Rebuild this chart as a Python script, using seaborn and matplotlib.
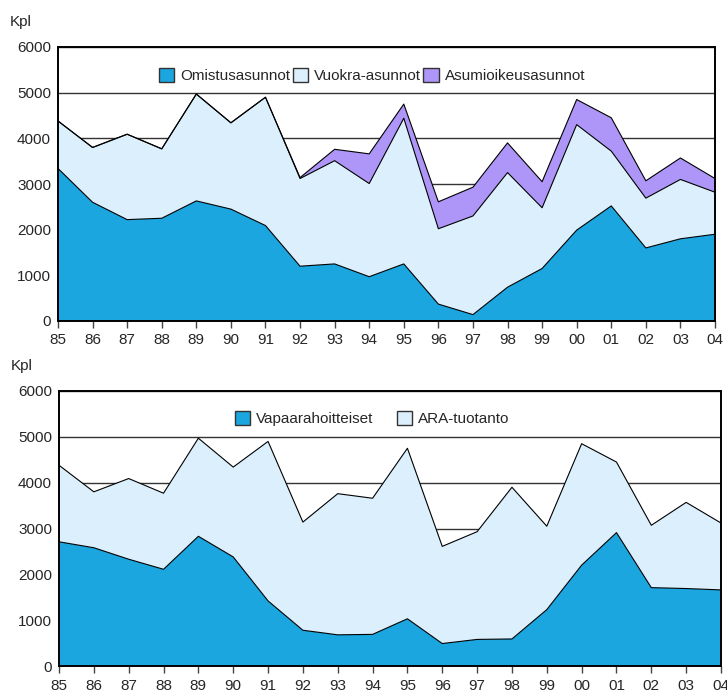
import matplotlib
matplotlib.use("Agg")
import matplotlib.pyplot as plt
from matplotlib.patches import Patch
import seaborn as sns
import pandas as pd

years = ["85", "86", "87", "88", "89", "90", "91", "92", "93", "94",
         "95", "96", "97", "98", "99", "00", "01", "02", "03", "04"]

# Top chart
omistus = [3340, 2600, 2220, 2250, 2630, 2450, 2090, 1200, 1250, 970,
           1250, 370, 140, 740, 1150, 1990, 2520, 1600, 1800, 1900]
vuokra = [1040, 1200, 1870, 1520, 2340, 1890, 2810, 1920, 2260, 2040,
          3190, 1650, 2160, 2510, 1330, 2310, 1200, 1090, 1300, 920]
asumio = [0, 0, 0, 0, 0, 0, 0, 20, 250, 650,
          310, 590, 630, 650, 570, 550, 730, 380, 470, 300]

# Bottom chart
vapaa = [2710, 2580, 2330, 2110, 2830, 2380, 1420, 780, 680, 690,
         1030, 490, 580, 590, 1230, 2200, 2910, 1710, 1690, 1660]
ara = [1670, 1220, 1760, 1660, 2140, 1960, 3480, 2360, 3080, 2970,
       3720, 2120, 2350, 3310, 1820, 2650, 1540, 1360, 1880, 1460]

top_labels = ["Omistusasunnot", "Vuokra-asunnot", "Asumioikeusasunnot"]
bottom_labels = ["Vapaarahoitteiset", "ARA-tuotanto"]
yticks = [0, 1000, 2000, 3000, 4000, 5000, 6000]

C_BLUE = "#1BA6E0"
C_LIGHT = "#DCEFFC"
C_PURPLE = "#AE96F8"

sns.set_theme(style="ticks")
plt.rcParams["font.family"] = ["Liberation Sans", "DejaVu Sans"]

fig = plt.figure(figsize=(7.27, 6.93), dpi=100)
ax1 = fig.add_axes([58 / 727, 1 - 321 / 693, 657 / 727, 274 / 693])
ax2 = fig.add_axes([59 / 727, 1 - 666 / 693, 662 / 727, 275 / 693])


def draw(ax, series, colors, labels, legend_pos, colspace, kpl_y):
    x = list(range(len(years)))
    ax.stackplot(x, *series, colors=colors, edgecolor="none", zorder=2)
    cum = [0] * len(years)
    for s in series:
        cum = [c + v for c, v in zip(cum, s)]
        df = pd.DataFrame({"x": x, "y": cum})
        sns.lineplot(data=df, x="x", y="y", ax=ax, color="black",
                     linewidth=0.8, zorder=3, legend=False)
    ax.set_xlim(0, len(years) - 1)
    ax.set_ylim(0, 6000)
    ax.set_xticks(x)
    ax.set_xticklabels(years)
    ax.set_yticks(yticks)
    ax.set_yticklabels([str(v) for v in yticks])
    ax.set_xlabel("")
    ax.set_ylabel("")
    ax.yaxis.grid(True, color="#333333", linewidth=1.0, zorder=1)
    ax.set_axisbelow(True)
    for sp in ax.spines.values():
        sp.set_visible(True)
        sp.set_color("black")
        sp.set_linewidth(1.4)
        sp.set_zorder(5)
    ax.tick_params(axis="x", length=5, width=1, color="#444444",
                   labelsize=11, pad=4, direction="out")
    ax.tick_params(axis="y", length=0, labelsize=11, pad=5)
    ax.text(-0.073, kpl_y, "Kpl", transform=ax.transAxes, fontsize=11,
            ha="left", va="center")
    handles = [Patch(facecolor=c, edgecolor="#333333", linewidth=1.0)
               for c in colors]
    ax.legend(handles, labels, loc="center", bbox_to_anchor=legend_pos,
              ncol=len(labels), frameon=False, fontsize=11,
              handlelength=1.0, handleheight=1.0, handletextpad=0.4,
              columnspacing=colspace, borderaxespad=0)


draw(ax1, [omistus, vuokra, asumio], [C_BLUE, C_LIGHT, C_PURPLE],
     top_labels, (0.478, 0.895), 0.15, (321 - 22) / 274)
draw(ax2, [vapaa, ara], [C_BLUE, C_LIGHT], bottom_labels,
     (0.473, 0.9), 1.5, (666 - 366) / 275)

fig.savefig("out.png", dpi=100)
